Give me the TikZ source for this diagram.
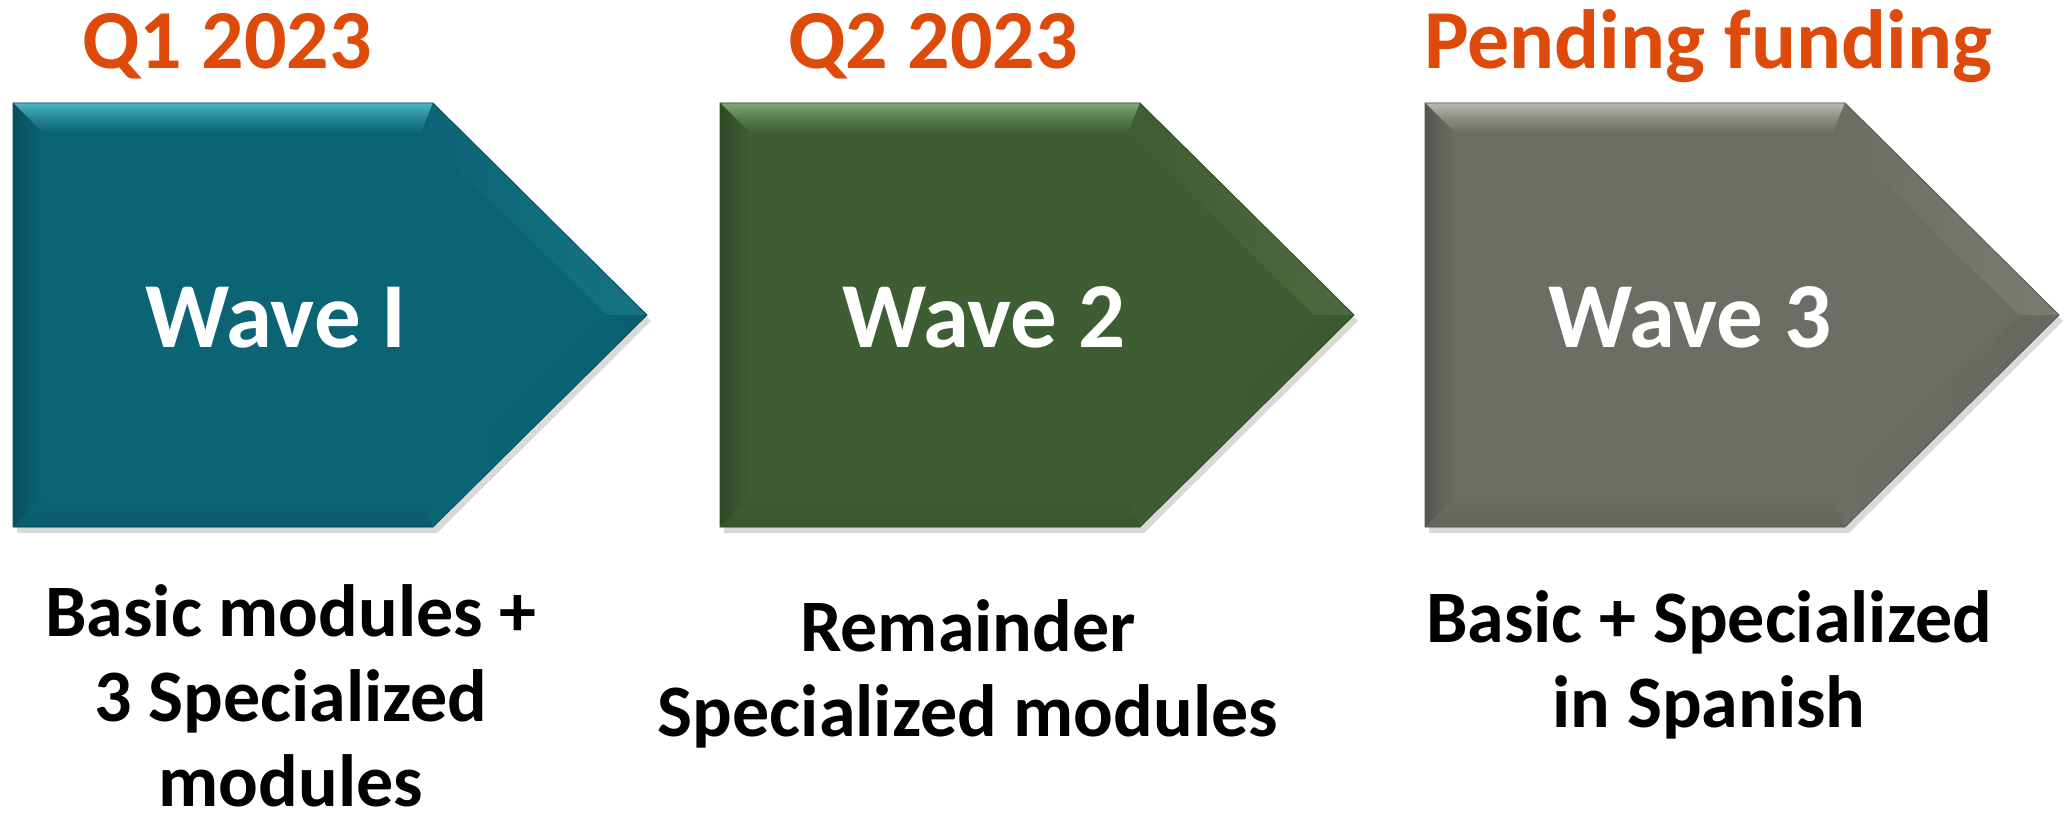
\documentclass[tikz,border=0pt]{standalone}
\usepackage{fontspec}
\setmainfont{Carlito}
\definecolor{qorange}{HTML}{DD4A0A}
\definecolor{tealM}{HTML}{0B6474}
\definecolor{tealL}{HTML}{4DB6C6}
\definecolor{tealD}{HTML}{07505C}
\definecolor{greenM}{HTML}{3D5E33}
\definecolor{greenL}{HTML}{80A874}
\definecolor{greenD}{HTML}{2E4927}
\definecolor{grayM}{HTML}{6D6D65}
\definecolor{grayL}{HTML}{B8BBB1}
\definecolor{grayD}{HTML}{55554E}
\tikzset{
  titletext/.style={anchor=base, text=qorange, font=\fontsize{84}{100}\selectfont\bfseries, inner sep=0pt},
  wavetext/.style={anchor=base, text=white, font=\fontsize{93}{110}\selectfont\bfseries, inner sep=0pt},
  desctext/.style={anchor=base, text=black, align=center, font=\fontsize{74}{85}\selectfont\bfseries, inner sep=0pt},
}
% #1 left x, #2 main, #3 light, #4 dark, #5 name
\newcommand{\wavearrow}[5]{%
  \pgfmathsetmacro{\Lx}{#1}
  \pgfmathsetmacro{\Nx}{#1+420}
  \pgfmathsetmacro{\Px}{#1+634}
  \pgfmathsetmacro{\Lb}{#1+30}
  \pgfmathsetmacro{\Nb}{#1+420-12}
  \pgfmathsetmacro{\Pb}{#1+634-40}
  % shadow
  \fill[black, opacity=0.15] (\Lx+4,103+6) -- (\Nx+4,103+6) -- (\Px+4,315+6) -- (\Nx+4,527+6) -- (\Lx+4,527+6) -- cycle;
  % main body
  \fill[#2] (\Lx,103) -- (\Nx,103) -- (\Px,315) -- (\Nx,527) -- (\Lx,527) -- cycle;
  % bevels
  \shade[top color=#3, bottom color=#2, middle color=#2!60!#3] (\Lx,103) -- (\Nx,103) -- (\Nb,133) -- (\Lb,133) -- cycle;
  \shade[left color=#4, right color=#2] (\Lx,103) -- (\Lb,133) -- (\Lb,497) -- (\Lx,527) -- cycle;
  \shade[top color=#2, bottom color=#2!60!#4] (\Lx,527) -- (\Lb,497) -- (\Nb,497) -- (\Nx,527) -- cycle;
  \shade[shading angle=45, left color=#2, right color=#2!82!#3] (\Nx,103) -- (\Px,315) -- (\Pb,315) -- (\Nb,133) -- cycle;
  \shade[shading angle=135, left color=#2, right color=#2!80!#4] (\Px,315) -- (\Nx,527) -- (\Nb,497) -- (\Pb,315) -- cycle;
  \draw[#2!80!black, line width=0.8pt] (\Lx,103) -- (\Nx,103) -- (\Px,315) -- (\Nx,527) -- (\Lx,527) -- cycle;
  \coordinate (#5) at (\Lx,315);
}
\begin{document}
\begin{tikzpicture}[x=1pt,y=-1pt]
\useasboundingbox (0,0) rectangle (2070,821);
\fill[white] (0,0) rectangle (2070,821);

\wavearrow{13}{tealM}{tealL}{tealD}{a1}
\wavearrow{720}{greenM}{greenL}{greenD}{a2}
\wavearrow{1425}{grayM}{grayL}{grayD}{a3}

\node[titletext] (t1) at (227,69) {Q1 2023};
\node[titletext] (t2) at (933,69) {Q2 2023};
\node[titletext] (t3) at (1708,69) {Pending funding};

\node[wavetext] (w1) at (276,347) {Wave I};
\node[wavetext] (w2) at (984,347) {Wave 2};
\node[wavetext] (w3) at (1690,347) {Wave 3};

\node[desctext] (d1) at (291,806) {Basic modules +\\3 Specialized\\modules};
\node[desctext] (d2) at (968,736) {Remainder\\Specialized modules};
\node[desctext] (d3) at (1709,727) {Basic + Specialized\\in Spanish};
\end{tikzpicture}
\end{document}
